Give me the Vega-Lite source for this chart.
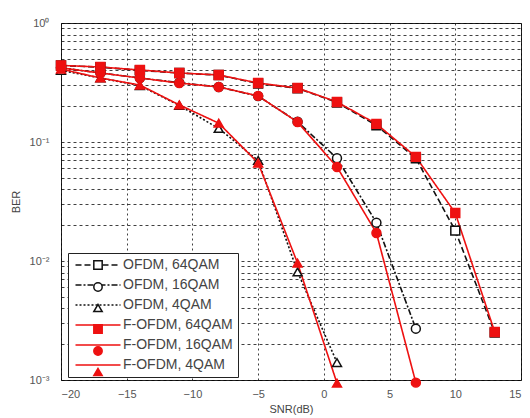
{
  "$schema": "https://vega.github.io/schema/vega-lite/v6.json",
  "width": 460,
  "height": 357,
  "autosize": {"type": "none"},
  "padding": {"left": 61, "top": 23, "right": 9, "bottom": 38},
  "background": "white",
  "config": {
    "font": "Liberation Sans",
    "view": {"stroke": "#222", "strokeWidth": 1}
  },
  "data": {
    "values": [
      {"scheme": "OFDM, 64QAM", "snr": -20, "ber": 0.44},
      {"scheme": "OFDM, 64QAM", "snr": -17, "ber": 0.425},
      {"scheme": "OFDM, 64QAM", "snr": -14, "ber": 0.4},
      {"scheme": "OFDM, 64QAM", "snr": -11, "ber": 0.38},
      {"scheme": "OFDM, 64QAM", "snr": -8, "ber": 0.365},
      {"scheme": "OFDM, 64QAM", "snr": -5, "ber": 0.31},
      {"scheme": "OFDM, 64QAM", "snr": -2, "ber": 0.283},
      {"scheme": "OFDM, 64QAM", "snr": 1, "ber": 0.215},
      {"scheme": "OFDM, 64QAM", "snr": 4, "ber": 0.138},
      {"scheme": "OFDM, 64QAM", "snr": 7, "ber": 0.073},
      {"scheme": "OFDM, 64QAM", "snr": 10, "ber": 0.018},
      {"scheme": "OFDM, 64QAM", "snr": 13, "ber": 0.0025},
      {"scheme": "OFDM, 16QAM", "snr": -20, "ber": 0.42},
      {"scheme": "OFDM, 16QAM", "snr": -17, "ber": 0.38},
      {"scheme": "OFDM, 16QAM", "snr": -14, "ber": 0.345},
      {"scheme": "OFDM, 16QAM", "snr": -11, "ber": 0.315},
      {"scheme": "OFDM, 16QAM", "snr": -8, "ber": 0.29},
      {"scheme": "OFDM, 16QAM", "snr": -5, "ber": 0.243},
      {"scheme": "OFDM, 16QAM", "snr": -2, "ber": 0.148},
      {"scheme": "OFDM, 16QAM", "snr": 1, "ber": 0.073},
      {"scheme": "OFDM, 16QAM", "snr": 4, "ber": 0.021},
      {"scheme": "OFDM, 16QAM", "snr": 7, "ber": 0.0027},
      {"scheme": "OFDM, 4QAM", "snr": -20, "ber": 0.4},
      {"scheme": "OFDM, 4QAM", "snr": -17, "ber": 0.345},
      {"scheme": "OFDM, 4QAM", "snr": -14, "ber": 0.298},
      {"scheme": "OFDM, 4QAM", "snr": -11, "ber": 0.203},
      {"scheme": "OFDM, 4QAM", "snr": -8, "ber": 0.13},
      {"scheme": "OFDM, 4QAM", "snr": -5, "ber": 0.07},
      {"scheme": "OFDM, 4QAM", "snr": -2, "ber": 0.0081},
      {"scheme": "OFDM, 4QAM", "snr": 1, "ber": 0.0014},
      {"scheme": "F-OFDM, 64QAM", "snr": -20, "ber": 0.44},
      {"scheme": "F-OFDM, 64QAM", "snr": -17, "ber": 0.427},
      {"scheme": "F-OFDM, 64QAM", "snr": -14, "ber": 0.403},
      {"scheme": "F-OFDM, 64QAM", "snr": -11, "ber": 0.38},
      {"scheme": "F-OFDM, 64QAM", "snr": -8, "ber": 0.366},
      {"scheme": "F-OFDM, 64QAM", "snr": -5, "ber": 0.313},
      {"scheme": "F-OFDM, 64QAM", "snr": -2, "ber": 0.284},
      {"scheme": "F-OFDM, 64QAM", "snr": 1, "ber": 0.217},
      {"scheme": "F-OFDM, 64QAM", "snr": 4, "ber": 0.142},
      {"scheme": "F-OFDM, 64QAM", "snr": 7, "ber": 0.075},
      {"scheme": "F-OFDM, 64QAM", "snr": 10, "ber": 0.0253},
      {"scheme": "F-OFDM, 64QAM", "snr": 13, "ber": 0.00253},
      {"scheme": "F-OFDM, 16QAM", "snr": -20, "ber": 0.42},
      {"scheme": "F-OFDM, 16QAM", "snr": -17, "ber": 0.38},
      {"scheme": "F-OFDM, 16QAM", "snr": -14, "ber": 0.345},
      {"scheme": "F-OFDM, 16QAM", "snr": -11, "ber": 0.313},
      {"scheme": "F-OFDM, 16QAM", "snr": -8, "ber": 0.29},
      {"scheme": "F-OFDM, 16QAM", "snr": -5, "ber": 0.244},
      {"scheme": "F-OFDM, 16QAM", "snr": -2, "ber": 0.147},
      {"scheme": "F-OFDM, 16QAM", "snr": 1, "ber": 0.0617},
      {"scheme": "F-OFDM, 16QAM", "snr": 4, "ber": 0.0172},
      {"scheme": "F-OFDM, 16QAM", "snr": 7, "ber": 0.00095},
      {"scheme": "F-OFDM, 4QAM", "snr": -20, "ber": 0.41},
      {"scheme": "F-OFDM, 4QAM", "snr": -17, "ber": 0.345},
      {"scheme": "F-OFDM, 4QAM", "snr": -14, "ber": 0.301},
      {"scheme": "F-OFDM, 4QAM", "snr": -11, "ber": 0.205},
      {"scheme": "F-OFDM, 4QAM", "snr": -8, "ber": 0.144},
      {"scheme": "F-OFDM, 4QAM", "snr": -5, "ber": 0.0666},
      {"scheme": "F-OFDM, 4QAM", "snr": -2, "ber": 0.0096},
      {"scheme": "F-OFDM, 4QAM", "snr": 1, "ber": 0.00094}
    ]
  },
  "encoding": {
    "x": {
      "field": "snr",
      "type": "quantitative",
      "scale": {"domain": [-20, 15], "nice": false, "zero": false},
      "axis": {
        "values": [-20, -15, -10, -5, 0, 5, 10, 15],
        "title": "SNR(dB)",
        "grid": true,
        "gridColor": "#000",
        "gridOpacity": 0.75,
        "gridDash": [2, 3],
        "ticks": false,
        "domain": false,
        "labelPadding": 8,
        "labelFontSize": 11,
        "labelColor": "#555",
        "titleFontSize": 11,
        "titleFontWeight": "normal",
        "titleColor": "#444",
        "titlePadding": 4
      }
    },
    "y": {
      "field": "ber",
      "type": "quantitative",
      "scale": {"type": "log", "domain": [0.001, 1], "nice": false},
      "axis": {
        "values": [0.001, 0.002, 0.003, 0.004, 0.005, 0.006, 0.007, 0.008, 0.009,
                   0.01, 0.02, 0.03, 0.04, 0.05, 0.06, 0.07, 0.08, 0.09,
                   0.1, 0.2, 0.3, 0.4, 0.5, 0.6, 0.7, 0.8, 0.9, 1],
        "labelExpr": "datum.value == 1 ? '10⁰' : datum.value == 0.1 ? '10⁻¹' : datum.value == 0.01 ? '10⁻²' : datum.value == 0.001 ? '10⁻³' : ''",
        "labelOverlap": false,
        "title": "BER",
        "grid": true,
        "gridColor": "#000",
        "gridOpacity": 0.75,
        "gridDash": [3, 3],
        "ticks": false,
        "domain": false,
        "labelPadding": 12,
        "labelFontSize": 11,
        "labelColor": "#555",
        "titleFontSize": 11,
        "titleFontWeight": "normal",
        "titleColor": "#444",
        "titlePadding": 8
      }
    }
  },
  "layer": [
    {
      "mark": {"type": "line", "strokeWidth": 1.6},
      "encoding": {
        "color": {
          "field": "scheme",
          "type": "nominal",
          "scale": {
            "domain": ["OFDM, 64QAM", "OFDM, 16QAM", "OFDM, 4QAM", "F-OFDM, 64QAM", "F-OFDM, 16QAM", "F-OFDM, 4QAM"],
            "range": ["#111111", "#111111", "#111111", "#ee1111", "#ee1111", "#ee1111"]
          },
          "legend": {
            "title": null, "orient": "none", "legendX": 7, "legendY": 230,
            "symbolType": "M-4.5,0H4.5", "symbolSize": 100, "symbolStrokeWidth": 1.6,
            "symbolOffset": 18, "labelOffset": 18, "labelFontSize": 14, "labelColor": "#444",
            "rowPadding": 6, "padding": 5, "strokeColor": "#222", "fillColor": "white", "cornerRadius": 0
          }
        },
        "strokeDash": {
          "field": "scheme",
          "type": "nominal",
          "scale": {
            "domain": ["OFDM, 64QAM", "OFDM, 16QAM", "OFDM, 4QAM", "F-OFDM, 64QAM", "F-OFDM, 16QAM", "F-OFDM, 4QAM"],
            "range": [[6, 3], [6, 2, 2, 2], [2, 2], [1, 0], [1, 0], [1, 0]]
          },
          "legend": {
            "title": null, "orient": "none", "legendX": 7, "legendY": 230,
            "symbolType": "M-4.5,0H4.5", "symbolSize": 100, "symbolStrokeWidth": 1.6,
            "symbolOffset": 18, "labelOffset": 18, "labelFontSize": 14, "labelColor": "#444",
            "rowPadding": 6, "padding": 5, "strokeColor": "#222", "fillColor": "white", "cornerRadius": 0
          }
        }
      }
    },
    {
      "mark": {"type": "point", "size": 80, "strokeWidth": 1.5, "opacity": 1},
      "encoding": {
        "shape": {
          "field": "scheme",
          "type": "nominal",
          "sort": null,
          "scale": {"range": ["square", "circle", "triangle-up", "square", "circle", "triangle-up"]},
          "legend": {
            "title": null, "orient": "none", "legendX": 7, "legendY": 230,
            "symbolSize": 70, "symbolStrokeWidth": 1.5, "symbolOpacity": 1,
            "symbolOffset": 18, "labelOffset": 18, "labelFontSize": 14, "labelExpr": "''",
            "rowPadding": 6, "padding": 5, "strokeColor": null, "fillColor": null
          }
        },
        "fill": {
          "field": "scheme",
          "type": "nominal",
          "sort": null,
          "scale": {"range": ["white", "white", "white", "#ee1111", "#ee1111", "#ee1111"]},
          "legend": {
            "title": null, "orient": "none", "legendX": 7, "legendY": 230,
            "symbolSize": 70, "symbolStrokeWidth": 1.5, "symbolOpacity": 1,
            "symbolOffset": 18, "labelOffset": 18, "labelFontSize": 14, "labelExpr": "''",
            "rowPadding": 6, "padding": 5, "strokeColor": null, "fillColor": null
          }
        },
        "stroke": {
          "field": "scheme",
          "type": "nominal",
          "sort": null,
          "scale": {"range": ["#111111", "#111111", "#111111", "#ee1111", "#ee1111", "#ee1111"]},
          "legend": {
            "title": null, "orient": "none", "legendX": 7, "legendY": 230,
            "symbolSize": 70, "symbolStrokeWidth": 1.5, "symbolOpacity": 1,
            "symbolOffset": 18, "labelOffset": 18, "labelFontSize": 14, "labelExpr": "''",
            "rowPadding": 6, "padding": 5, "strokeColor": null, "fillColor": null
          }
        }
      }
    }
  ]
}
